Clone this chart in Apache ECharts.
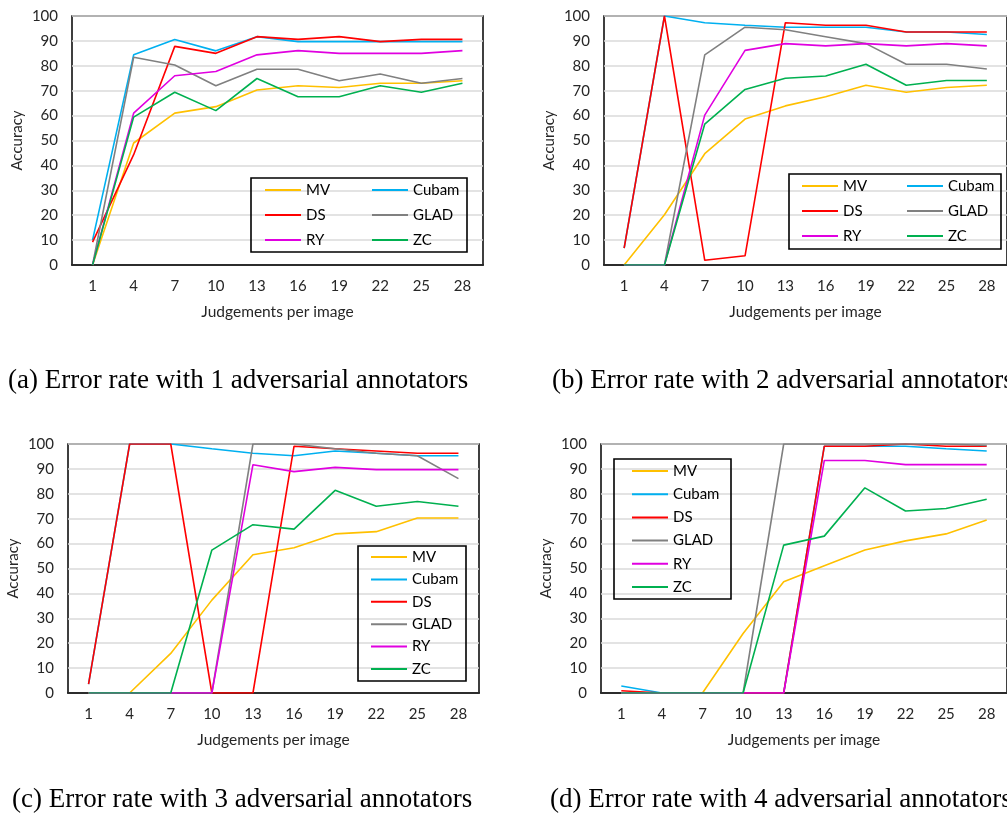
<!DOCTYPE html>
<html>
<head>
<meta charset="utf-8">
<style>
  html, body { margin: 0; padding: 0; background: #fff; }
  #chart { width: 1007px; height: 822px; }
</style>
<script src="https://cdn.jsdelivr.net/npm/echarts@6/dist/echarts.min.js"></script>
</head>
<body>
<div id="chart"></div>
<script>
// Judgements per image (x axis categories)
const judgements = ['1', '4', '7', '10', '13', '16', '19', '22', '25', '28'];
const methods = ['MV', 'Cubam', 'DS', 'GLAD', 'RY', 'ZC'];
const methodColors = ['#FFC000', '#00B0F0', '#FF0000', '#808080', '#E000E0', '#00B050'];
const yTicks = { min: 0, max: 100, step: 10 };

// (a) 1 adversarial annotator
const mvA    = [0, 49, 61, 63.6, 70.3, 72, 71.3, 73, 73, 74];
const cubamA = [10, 84.4, 90.6, 86, 91.7, 89.7, 89.7, 89.7, 89.7, 89.7];
const dsA    = [9.2, 44.3, 87.8, 85, 91.7, 90.6, 91.7, 89.7, 90.6, 90.6];
const gladA  = [0, 83.4, 80.3, 72, 78.6, 78.6, 74, 76.7, 73, 74.9];
const ryA    = [0, 61, 76, 77.7, 84.4, 86.1, 85, 85, 85, 86.1];
const zcA    = [0, 59.4, 69.4, 62, 74.9, 67.6, 67.6, 72, 69.4, 73];

// (b) 2 adversarial annotators
const mvB    = [0, 20.2, 44.7, 58.6, 63.9, 67.6, 72.2, 69.4, 71.3, 72.2];
const cubamB = [6.8, 100, 97.3, 96.3, 95.5, 95.5, 95.5, 93.6, 93.6, 92.6];
const dsB    = [6.8, 100, 1.9, 3.7, 97.3, 96.3, 96.3, 93.6, 93.6, 93.6];
const gladB  = [0, 0, 84.4, 95.5, 94.5, 91.7, 88.9, 80.6, 80.6, 78.7];
const ryB    = [0, 0, 60.2, 86.2, 88.9, 88, 88.9, 88, 88.9, 88];
const zcB    = [0, 0, 56.6, 70.5, 75, 75.9, 80.6, 72.2, 74.1, 74.1];

// (c) 3 adversarial annotators
const mvC    = [0, 0, 15.9, 37.3, 55.5, 58.3, 63.9, 64.8, 70.3, 70.3];
const cubamC = [3.6, 100, 100, 98.1, 96.3, 95.3, 97.2, 96.3, 95.3, 95.3];
const dsC    = [3.6, 100, 100, 0, 0, 99.1, 98.1, 97.2, 96.3, 96.3];
const gladC  = [0, 0, 0, 0, 100, 100, 98.1, 96.3, 95.3, 86.1];
const ryC    = [0, 0, 0, 0, 91.7, 88.9, 90.6, 89.7, 89.7, 89.7];
const zcC    = [0, 0, 0, 57.4, 67.6, 65.8, 81.4, 75, 76.9, 75];

// (d) 4 adversarial annotators
const mvD    = [0, 0, 0, 23.9, 44.7, 51.1, 57.4, 61.1, 63.9, 69.5];
const cubamD = [2.8, 0, 0, 0, 0, 99.1, 99.1, 99.1, 98.1, 97.2];
const dsD    = [0.9, 0, 0, 0, 0, 99.1, 99.1, 100, 99.1, 99.1];
const gladD  = [0, 0, 0, 0, 100, 100, 100, 100, 100, 99.4];
const ryD    = [0, 0, 0, 0, 0, 93.4, 93.4, 91.7, 91.7, 91.7];
const zcD    = [0, 0, 0, 0, 59.4, 63, 82.4, 73.1, 74.1, 77.8];

const captions = [
  '(a) Error rate with 1 adversarial annotators',
  '(b) Error rate with 2 adversarial annotators',
  '(c) Error rate with 3 adversarial annotators',
  '(d) Error rate with 4 adversarial annotators'
];

const panels = [
  [mvA, cubamA, dsA, gladA, ryA, zcA],
  [mvB, cubamB, dsB, gladB, ryB, zcB],
  [mvC, cubamC, dsC, gladC, ryC, zcC],
  [mvD, cubamD, dsD, gladD, ryD, zcD]
];

// Layout of the 2x2 panel grid
const gridBoxes = [
  { left: 72,  top: 16,  width: 411, height: 249 },
  { left: 604, top: 16,  width: 411, height: 249 },
  { left: 68,  top: 444, width: 411, height: 249 },
  { left: 601, top: 444, width: 411, height: 249 }
];

const labelFont = 'Lato, "Open Sans", sans-serif';
const axisText = '#262626';

const grids = gridBoxes.map(g => Object.assign({
  show: true, borderColor: '#000', borderWidth: 1.5, backgroundColor: 'transparent',
  containLabel: false
}, g));

const xAxes = gridBoxes.map((g, i) => ({
  type: 'category', gridIndex: i, data: judgements, boundaryGap: true,
  axisTick: { show: false },
  axisLine: { show: true, lineStyle: { color: '#000', width: 1.5 } },
  axisLabel: { color: axisText, fontSize: 15, fontFamily: labelFont, margin: 14 },
  name: 'Judgements per image', nameLocation: 'middle', nameGap: 39,
  nameTextStyle: { color: axisText, fontSize: 15.5, fontFamily: labelFont }
}));

const yAxes = gridBoxes.map((g, i) => ({
  type: 'value', gridIndex: i, min: yTicks.min, max: yTicks.max, interval: yTicks.step,
  axisTick: { show: false },
  axisLine: { show: false },
  splitLine: { show: true, lineStyle: { color: '#DADADA', width: 1.5 } },
  axisLabel: { color: axisText, fontSize: 15, fontFamily: labelFont, margin: 14 },
  name: 'Accuracy', nameLocation: 'middle', nameRotate: 90, nameGap: 47,
  nameTextStyle: { color: axisText, fontSize: 15, fontFamily: labelFont }
}));

const series = [];
panels.forEach((panel, p) => {
  panel.forEach((values, m) => {
    series.push({
      type: 'line', name: methods[m], xAxisIndex: p, yAxisIndex: p,
      data: values, symbol: 'none', smooth: false, animation: false,
      lineStyle: { color: methodColors[m], width: 1.6 },
      itemStyle: { color: methodColors[m] }
    });
  });
});

const legendBase = {
  orient: 'vertical', padding: 0, itemWidth: 36, itemHeight: 2, icon: 'rect',
  selectedMode: false,
  textStyle: { color: '#000', fontSize: 15, fontFamily: labelFont, lineHeight: 16 }
};
const legends = [
  Object.assign({}, legendBase, { left: 265, top: 182, itemGap: 9, data: ['MV', 'DS', 'RY'] }),
  Object.assign({}, legendBase, { left: 372, top: 182, itemGap: 9, data: ['Cubam', 'GLAD', 'ZC'] }),
  Object.assign({}, legendBase, { left: 802, top: 178, itemGap: 9, data: ['MV', 'DS', 'RY'] }),
  Object.assign({}, legendBase, { left: 907, top: 178, itemGap: 9, data: ['Cubam', 'GLAD', 'ZC'] }),
  Object.assign({}, legendBase, { left: 371, top: 549, itemGap: 6.4, data: methods }),
  Object.assign({}, legendBase, { left: 632, top: 463, itemGap: 7.2, data: methods })
];

// Legend frames and captions
const legendFrames = [
  { x: 251, y: 178, w: 216, h: 74 },
  { x: 789, y: 174, w: 212, h: 75 },
  { x: 358, y: 546, w: 108, h: 135 },
  { x: 614, y: 459, w: 117, h: 140 }
];
const captionSpots = [
  { x: 8, y: 381 }, { x: 552, y: 381 }, { x: 12, y: 800 }, { x: 550, y: 800 }
];

const graphics = [];
legendFrames.forEach(f => graphics.push({
  type: 'rect', shape: { x: f.x, y: f.y, width: f.w, height: f.h },
  style: { fill: 'transparent', stroke: '#000', lineWidth: 1.6 }, z: 10
}));
captions.forEach((c, i) => graphics.push({
  type: 'text', x: captionSpots[i].x, y: captionSpots[i].y,
  style: { text: c, fill: '#000', font: '27px "Liberation Serif", serif', verticalAlign: 'middle' }
}));

const chart = echarts.init(document.getElementById('chart'), null, { renderer: 'canvas' });
chart.setOption({
  backgroundColor: '#fff',
  animation: false,
  grid: grids,
  xAxis: xAxes,
  yAxis: yAxes,
  legend: legends,
  series: series,
  graphic: graphics
});
</script>
</body>
</html>
